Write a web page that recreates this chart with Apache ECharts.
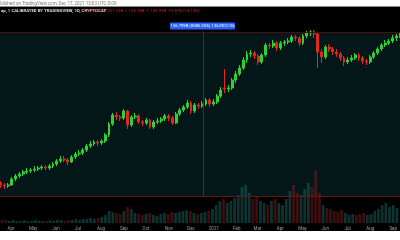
<!DOCTYPE html>
<html><head><meta charset="utf-8">
<script src="https://cdn.jsdelivr.net/npm/echarts@6/dist/echarts.min.js"></script>
<style>html,body{margin:0;padding:0;background:#fff;overflow:hidden}#c{width:400px;height:240px}</style>
</head><body><div id="c"></div>
<script>
const startDate = '2020-03-20';
const stepDays = 5;
const opens = [13,11,10,11,17, 20,22,24,25,26, 27,28,29,28,30, 32,35,37,36,34, 39,42,43,46,50, 52,54,53,55,61, 72,81,79,78,85, 71,79,80,74,73, 76,69,74,75,77, 80,78,73,82,86, 89,93,85,91,90, 92,96,92,94,100, 108,107,108,116,122, 128,136,142,143,140, 134,141,151,150,153, 148,153,154,155,159, 158,153,160,163,164, 162,144,139,149,147, 144,142,138,134,136, 138,141,138,135,134, 139,143,147,151,153, 155,158,160];
const closes = [11,10,11,17,20, 22,24,25,26,27, 28,29,28,30,32, 35,37,36,34,39, 42,43,46,50,52, 54,53,55,61,72, 81,79,78,85,71, 79,80,74,73,76, 69,74,75,77,80, 78,73,82,86,89, 93,85,91,90,92, 96,92,94,100,106, 107,108,116,122,128, 136,142,143,140,134, 141,151,150,153,148, 153,154,155,159,158, 153,160,163,164,162, 144,139,149,147,144, 142,138,134,136,138, 141,138,135,134,139, 143,147,151,153,155, 158,160,161];
const lows = [8,7,8,10,15, 18,20,22,23,24, 25,26,26,26,28, 30,33,34,31,33, 37,40,41,44,48, 50,50,51,53,59, 70,76,75,76,67, 69,77,72,70,71, 67,67,72,73,75, 75,71,72,80,84, 87,82,83,87,88, 90,89,90,92,98, 103,104,106,113,120, 126,133,139,137,131, 132,139,147,148,145, 146,150,152,153,155, 150,151,158,160,158, 128,133,137,144,141, 139,135,130,132,134, 136,135,132,131,132, 137,141,145,149,151, 153,155,158];
const highs = [15,13,13,19,22, 24,26,28,28,30, 30,31,31,32,34, 37,40,40,38,41, 44,46,48,52,55, 56,56,57,63,74, 83,84,81,87,86, 81,83,82,76,78, 77,76,78,79,82, 82,80,84,88,91, 96,95,93,93,95, 98,98,97,102,109, 127,111,118,125,131, 139,145,146,145,142, 143,153,153,156,155, 155,156,158,161,161, 160,162,165,166,166, 164,147,151,152,149, 147,144,140,139,141, 143,143,140,137,141, 145,149,153,156,157, 161,162,164];
const volumes = [3,3,2,3,2, 2,3,2,2,3, 2,2,2,3,2, 3,3,2,3,3, 4,3,4,4,5, 4,5,6,8,12, 11,10,9,12,16, 14,10,9,8,9, 10,8,7,9,10, 9,11,10,11,12, 13,12,10,9,10, 11,12,14,18,22, 24,20,22,25,28, 36,38,30,24,26, 22,20,18,22,24, 20,18,24,32,38, 30,28,34,40,36, 53,30,18,15,14, 12,11,13,10,8, 9,8,9,10,8, 9,12,14,18,20, 16,18,15];

const DAY = 86400000;
const t0 = Date.parse(startDate + 'T00:00:00Z');
const dates = opens.map((_, i) => t0 + i * stepDays * DAY);
const xMin = Date.parse('2020-03-19T00:00:00Z');
const xMax = Date.parse('2021-09-06T00:00:00Z');

const UP = '#2ed22e', DOWN = '#e3241f';
const candleData = opens.map((o, i) => [dates[i], o, closes[i], lows[i], highs[i]]);
const volData = volumes.map((v, i) => ({
  value: [dates[i], v],
  itemStyle: { color: closes[i] >= opens[i] ? 'rgba(30,110,104,0.45)' : 'rgba(140,32,32,0.45)' }
}));

const chart = echarts.init(document.getElementById('c'), null, { renderer: 'canvas' });
chart.setOption({
  animation: false,
  backgroundColor: '#ffffff',
  grid: [
    { left: 0, right: 0, top: 26, bottom: 44 },
    { left: 0, right: 0, top: 160, bottom: 17 }
  ],
  xAxis: [
    { type: 'time', gridIndex: 0, min: xMin, max: xMax, show: false },
    { type: 'time', gridIndex: 1, min: xMin, max: xMax, splitNumber: 18,
      axisLine: { show: false }, axisTick: { show: false }, splitLine: { show: false },
      axisLabel: { color: '#9a9ea8', fontSize: 4.5, margin: 3, fontFamily: 'Roboto',
        formatter: { year: '{yyyy}', month: '{MMM}', day: '{MMM}' }, hideOverlap: false } }
  ],
  yAxis: [
    { type: 'value', gridIndex: 0, min: 0, max: 170, show: false },
    { type: 'value', gridIndex: 1, min: 0, max: 63, show: false }
  ],
  series: [
    { type: 'bar', xAxisIndex: 1, yAxisIndex: 1, data: volData, barWidth: 2.8, z: 1 },
    { type: 'candlestick', xAxisIndex: 0, yAxisIndex: 0, data: candleData, barWidth: 2.4, z: 3,
      itemStyle: { color: UP, color0: DOWN, borderColor: UP, borderColor0: DOWN, borderWidth: 1 } }
  ],
  graphic: [
    { type: 'rect', z: -20, shape: { x: 0, y: 7, width: 400, height: 224 }, style: { fill: '#000000' }, silent: true },
    { type: 'rect', z: -19, shape: { x: 0, y: 32, width: 400, height: 164 }, style: { fill: '#031718' }, silent: true },
    { type: 'line', z: -18, shape: { x1: 0, y1: 6.5, x2: 400, y2: 6.5 }, style: { stroke: '#8a8a8a', lineWidth: 1 } },
    { type: 'line', z: 10, shape: { x1: 0, y1: 32.5, x2: 400, y2: 32.5 }, style: { stroke: '#4e0d0d', lineWidth: 1 } },
    { type: 'line', z: 10, shape: { x1: 0, y1: 196.5, x2: 400, y2: 196.5 }, style: { stroke: '#6a1414', lineWidth: 1 } },
    { type: 'line', z: 10, shape: { x1: 203.5, y1: 32, x2: 203.5, y2: 196 }, style: { stroke: '#7a1818', lineWidth: 1 } },
    { type: 'text', z: 10, x: -5, y: 1, style: { text: 'Published on TradingView.com, Dec 17, 2021 15:03 UTC-5:00', fill: '#7a7a7a', font: '4.5px Roboto' } },
    { type: 'text', z: 10, x: 1, y: 9, style: { text: 'ap, 1 CALIBRATED BY TRADINGVIEW, 1D, CRYPTOCAP', fill: '#d8d8d8', font: 'bold 4.3px Roboto' } },
    { type: 'text', z: 10, x: 81, y: 9, style: { text: 'O 142.11B  H 151.13B  L 136.78B  C 147.97B  +5.87B (+4.14%)', fill: '#c62020', font: '4.3px Roboto' } },
    { type: 'rect', z: 10, shape: { x: 170, y: 22.5, width: 65, height: 7, r: 1 }, style: { fill: '#2962ff' } },
    { type: 'text', z: 11, x: 202.5, y: 26, style: { text: '136.799B (8585.35%) 1362901/36', fill: '#ffffff', font: '4.2px Roboto', align: 'center', verticalAlign: 'middle' } }
  ]
});
</script>
</body></html>
